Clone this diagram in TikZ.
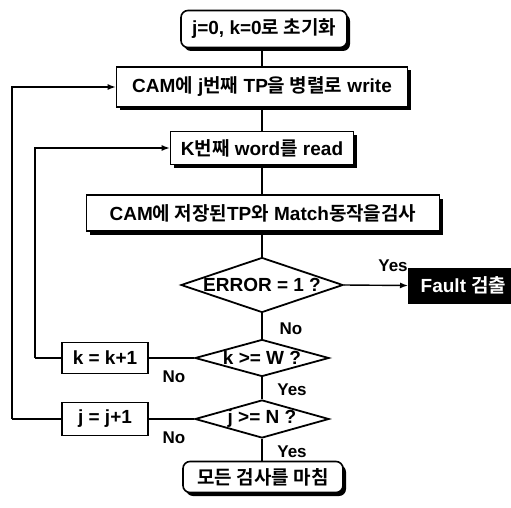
\documentclass[tikz,border=0pt]{standalone}
\usepackage{fontspec}
\setmainfont{Liberation Sans}
\newfontfamily\kofont{Noto Sans CJK KR}[BoldFont={* Bold}]
\newcommand{\ko}[1]{{\kofont\bfseries #1}}
\usetikzlibrary{shapes.geometric,shadows,arrows.meta}
\begin{document}
\begin{tikzpicture}[x=1pt,y=-1pt,
  font=\bfseries\fontsize{19}{21}\selectfont,
  shad/.style={drop shadow={shadow xshift=3pt,shadow yshift=-3.5pt,fill=black,opacity=1}},
  procbox/.style={draw,line width=1.6pt,fill=white,inner sep=0pt,shad},
  termbox/.style={procbox,rounded corners=7pt},
  plainbox/.style={draw,line width=1.6pt,fill=white,inner sep=0pt},
  decision/.style={diamond,draw,line width=1.8pt,inner sep=0pt,shape aspect=3},
  conn/.style={line width=1.4pt},
  arr/.style={conn,-{Latex[length=8pt,width=6pt]}},
  lbl/.style={font=\bfseries\fontsize{17}{19}\selectfont}]
\useasboundingbox (0,0) rectangle (511,508);
\node[termbox,minimum width=166pt,minimum height=37pt] (start) at (264,29) {j=0, k=0\ko{로 초기화}};
\node[procbox,minimum width=291pt,minimum height=40pt] (b2) at (262,87) {CAM\ko{에} j\ko{번째} TP\ko{을 병렬로} write};
\node[procbox,minimum width=183pt,minimum height=33pt] (b3) at (262,148) {K\ko{번째} word\ko{를} read};
\node[procbox,minimum width=353pt,minimum height=36pt] (b4) at (263,213) {CAM\ko{에 저장된}TP\ko{와} Match\ko{동작을검사}};
\node[decision,minimum width=162pt,minimum height=55pt,label=center:{ERROR = 1 ?}] (d1) at (262,285) {};
\node[draw,fill=black,text=white,line width=1pt,minimum width=110pt,minimum height=35pt,inner sep=0pt,anchor=west] (fault) at (408,285.5) {Fault \ko{검출}};
\node[decision,minimum width=134pt,minimum height=37pt,label=center:{k >= W ?}] (d2) at (262,358) {};
\node[plainbox,minimum width=86pt,minimum height=31pt] (kb) at (105,358) {k = k+1};
\node[decision,minimum width=134pt,minimum height=38pt,label=center:{j >= N ?}] (d3) at (262,419) {};
\node[plainbox,minimum width=86pt,minimum height=33pt] (jb) at (105,419) {j = j+1};
\node[termbox,minimum width=160pt,minimum height=31pt] (end) at (263,477) {\ko{모든 검사를 마침}};
\coordinate (kl) at (35,358);
\coordinate (jl) at (12,419);
\draw[conn] (start.south -| b2.north) -- (b2.north);
\draw[conn] (b2.south) -- (b3.north);
\draw[conn] (b3.south) -- (b3.south |- b4.north);
\draw[conn] (b4.south -| d1.north) -- (d1.north);
\draw[arr] (d1.east) -- (fault.west);
\draw[conn] (d1.south) -- (d2.north);
\draw[conn] (d2.south) -- (d3.north);
\draw[conn] (d3.south) -- (d3.south |- end.north);
\draw[conn] (d2.west) -- (kb.east);
\draw[conn] (d3.west) -- (jb.east);
\draw[conn] (kb.west) -- (kl);
\draw[arr] (kl) |- (b3.west);
\draw[conn] (jb.west) -- (jl);
\draw[arr] (jl) |- (b2.west);
\node[lbl] (y1) at (393,266) {Yes};
\node[lbl] (n1) at (291,329) {No};
\node[lbl] (n2) at (174,377) {No};
\node[lbl] (y2) at (292,390) {Yes};
\node[lbl] (n3) at (174,438) {No};
\node[lbl] (y3) at (292,452) {Yes};
\end{tikzpicture}
\end{document}
